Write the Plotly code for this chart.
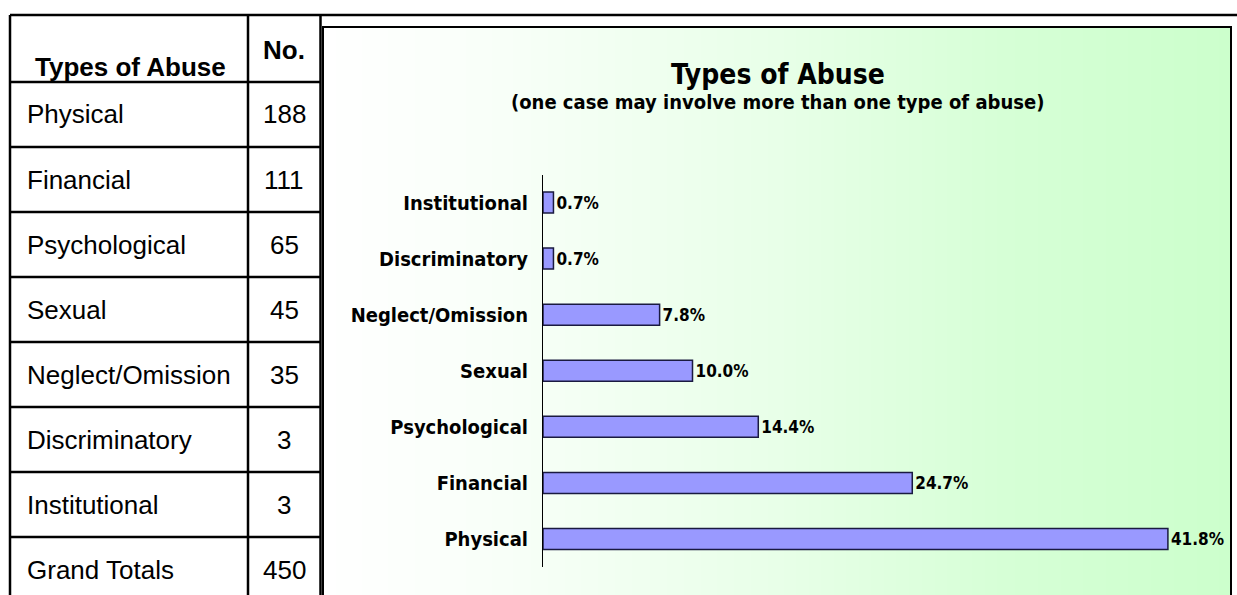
import plotly.graph_objects as go

# ---------------- data ----------------
table_types = ["Physical", "Financial", "Psychological", "Sexual",
               "Neglect/Omission", "Discriminatory", "Institutional"]
table_counts = [188, 111, 65, 45, 35, 3, 3]
grand_total_label = "Grand Totals"
grand_total = 450

chart_categories = ["Physical", "Financial", "Psychological", "Sexual",
                    "Neglect/Omission", "Discriminatory", "Institutional"]
chart_percent = [41.8, 24.7, 14.4, 10.0, 7.8, 0.7, 0.7]

chart_title = "Types of Abuse"
chart_subtitle = "(one case may involve more than one type of abuse)"

# ---------------- layout helpers ----------------
W, H = 1237, 595


def px(x):
    return x / W


def py(y):
    return 1 - y / H


CHART_FONT = "DejaVu Sans Condensed, DejaVu Sans, sans-serif"
TABLE_FONT = "Liberation Sans, Arial, sans-serif"

fig = go.Figure()

# gradient background of chart panel (heatmap on its own axes)
grad_x = list(range(0, 101))
fig.add_trace(go.Heatmap(
    x=grad_x, y=[0, 1], z=[grad_x, grad_x],
    colorscale=[[0, "#ffffff"], [0.2, "#f8fff8"], [0.5, "#e8ffe8"],
                [0.75, "#d6ffd6"], [1, "#ccffcc"]],
    zsmooth="best", showscale=False, hoverinfo="skip",
    xaxis="x", yaxis="y",
))

# bar chart
fig.add_trace(go.Bar(
    y=chart_categories, x=chart_percent, orientation="h",
    width=0.375,
    marker=dict(color="#9999ff", line=dict(color="#1a1a40", width=1.5)),
    text=[f"{p:.1f}%" for p in chart_percent],
    textposition="outside", cliponaxis=False,
    textfont=dict(family=CHART_FONT, size=17, color="#000000", weight="bold"),
    xaxis="x2", yaxis="y2", hoverinfo="skip",
))

zero_px, end_px, scale = 543, 1230, 14.95

fig.update_layout(
    width=W, height=H,
    margin=dict(l=0, r=0, t=0, b=0),
    paper_bgcolor="#ffffff",
    plot_bgcolor="rgba(0,0,0,0)",
    showlegend=False,
    xaxis=dict(domain=[px(323), px(1230)], range=[0, 100], visible=False, fixedrange=True),
    yaxis=dict(domain=[0, py(27)], range=[0, 1], visible=False, fixedrange=True),
    xaxis2=dict(domain=[px(zero_px), px(end_px)], range=[0, (end_px - zero_px) / scale],
                visible=False, anchor="y2"),
    yaxis2=dict(domain=[py(567), py(174.5)], anchor="x2",
                categoryorder="array", categoryarray=chart_categories,
                range=[-0.5, 6.5],
                showline=True, linecolor="#000000", linewidth=1,
                showgrid=False, zeroline=False, ticks="",
                ticklabelstandoff=10,
                tickfont=dict(family=CHART_FONT, size=20, color="#000000", weight="bold")),
)

shapes = []
# chart panel border
shapes.append(dict(type="rect", xref="paper", yref="paper",
                   x0=px(323), x1=px(1231), y0=py(600), y1=py(27),
                   line=dict(color="#000000", width=2), layer="above"))

# table lines
row_lines = [15, 82, 147, 212, 277, 342, 407, 472, 537]
for i, yy in enumerate(row_lines):
    x1 = 1237 if i == 0 else 321
    shapes.append(dict(type="line", xref="paper", yref="paper",
                       x0=px(10), x1=px(x1), y0=py(yy), y1=py(yy),
                       line=dict(color="#000000", width=2.5), layer="above"))
for xx in [10, 248, 320.5]:
    shapes.append(dict(type="line", xref="paper", yref="paper",
                       x0=px(xx), x1=px(xx), y0=py(15), y1=py(600),
                       line=dict(color="#000000", width=2.5), layer="above"))

annotations = []
# table header
annotations.append(dict(text="<b>Types of Abuse</b>", x=px(33), y=py(67), xref="paper", yref="paper",
                        xanchor="left", yanchor="middle", showarrow=False,
                        font=dict(family=TABLE_FONT, size=26, color="#000000")))
annotations.append(dict(text="<b>No.</b>", x=px(284), y=py(50), xref="paper", yref="paper",
                        xanchor="center", yanchor="middle", showarrow=False,
                        font=dict(family=TABLE_FONT, size=26, color="#000000")))
rows_text = list(zip(table_types, table_counts)) + [(grand_total_label, grand_total)]
for i, (name, cnt) in enumerate(rows_text):
    yc = (row_lines[i + 1] + (row_lines[i + 2] if i + 2 < len(row_lines) else 602)) / 2
    annotations.append(dict(text=name, x=px(25), y=py(yc), xref="paper", yref="paper",
                            xanchor="left", yanchor="middle", showarrow=False,
                            font=dict(family=TABLE_FONT, size=26, color="#000000")))
    annotations.append(dict(text=str(cnt), x=px(284), y=py(yc), xref="paper", yref="paper",
                            xanchor="center", yanchor="middle", showarrow=False,
                            font=dict(family=TABLE_FONT, size=26, color="#000000")))

# chart titles
annotations.append(dict(text=chart_title, x=px(778), y=py(74), xref="paper", yref="paper",
                        xanchor="center", yanchor="middle", showarrow=False,
                        font=dict(family=CHART_FONT, size=28, color="#000000", weight="bold")))
annotations.append(dict(text=chart_subtitle, x=px(777), y=py(102), xref="paper", yref="paper",
                        xanchor="center", yanchor="middle", showarrow=False,
                        font=dict(family=CHART_FONT, size=20, color="#000000", weight="bold")))

fig.update_layout(shapes=shapes, annotations=annotations)

fig.write_html("out.html", config={"displayModeBar": False},
               post_script="document.body.style.margin='0';document.body.style.overflow='hidden';")
